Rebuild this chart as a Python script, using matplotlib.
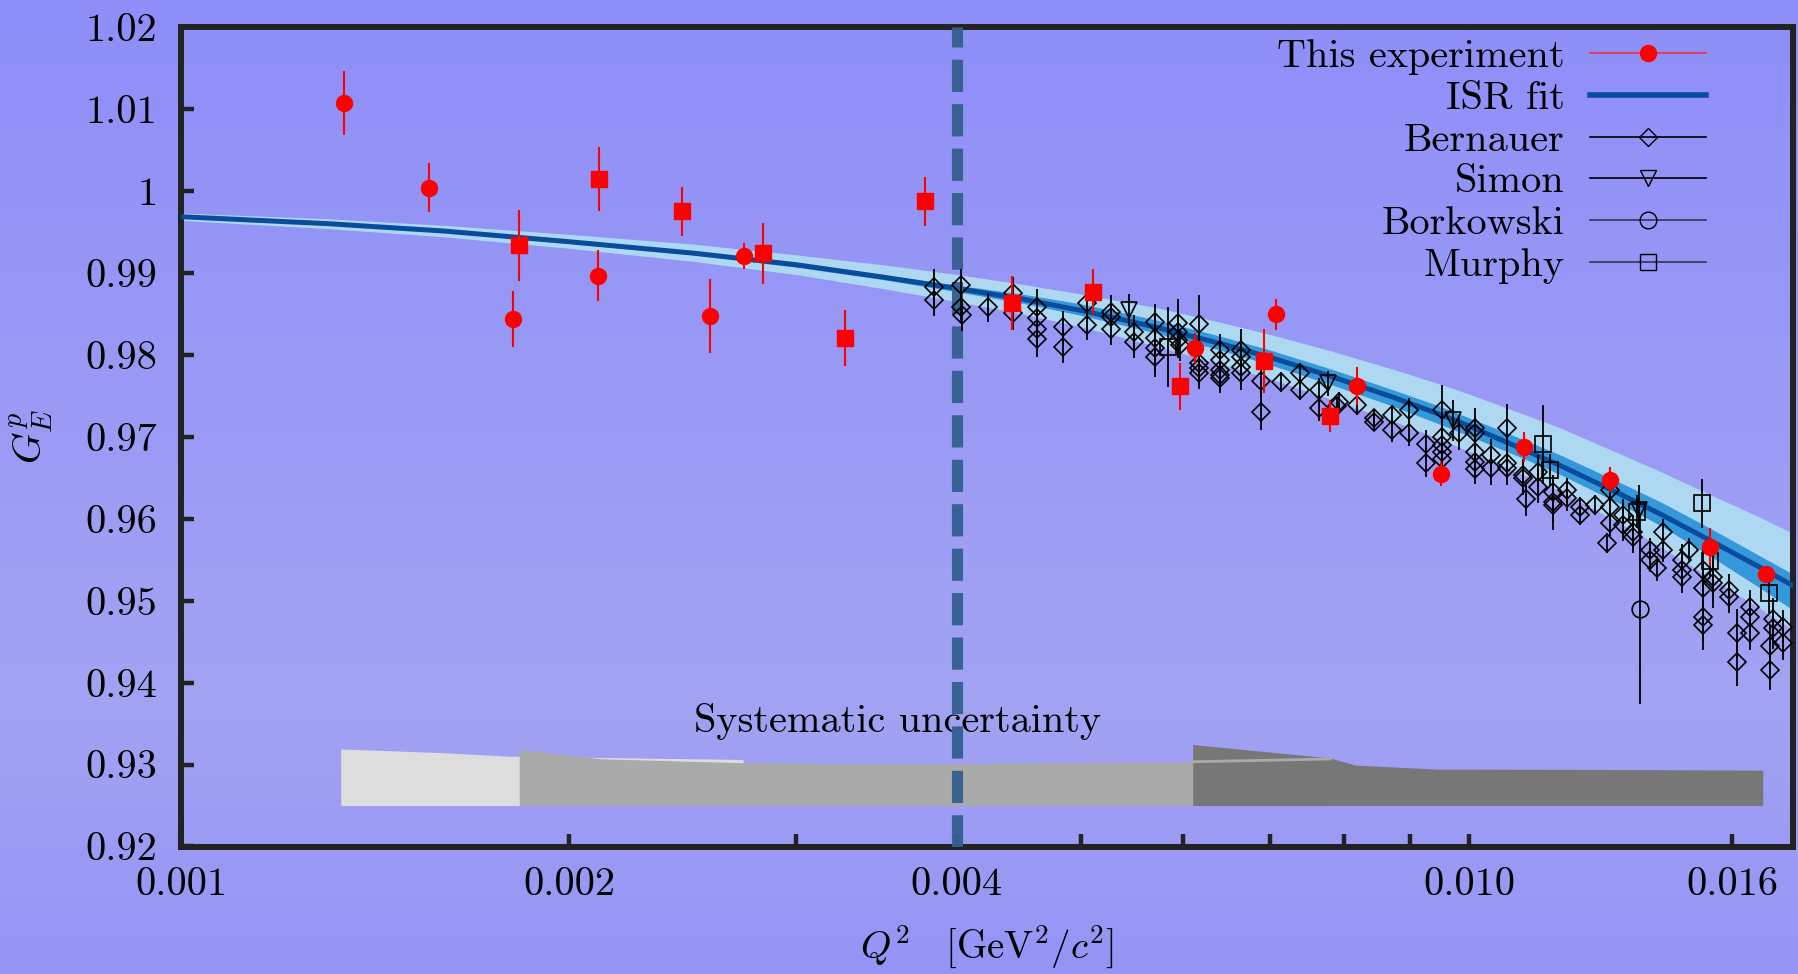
import numpy as np
import matplotlib
matplotlib.use("Agg")
import matplotlib.pyplot as plt
from matplotlib.lines import Line2D
from matplotlib.colors import LinearSegmentedColormap

plt.rcParams['font.family'] = ['cmr10', 'DejaVu Serif']
plt.rcParams['mathtext.fontset'] = 'cm'
plt.rcParams['axes.unicode_minus'] = False
plt.rcParams['axes.formatter.use_mathtext'] = True

# ---------------- data ----------------
# This experiment (circles)
exp_c_q2 = [0.001338, 0.001558, 0.001810, 0.002107, 0.002575, 0.002735, 0.006130,
            0.007085, 0.008188, 0.009513, 0.011030, 0.012860, 0.015370, 0.017010]
exp_c_g = [1.01069, 1.00039, 0.98437, 0.98965, 0.98477, 0.99206, 0.98083,
           0.98494, 0.97616, 0.96545, 0.96875, 0.96476, 0.95655, 0.95321]
exp_c_err = [0.0039, 0.0030, 0.0034, 0.0031, 0.0045, 0.0016, 0.0018,
             0.0019, 0.0023, 0.0015, 0.0018, 0.0015, 0.0023, 0.0010]
# This experiment (squares)
exp_s_q2 = [0.001830, 0.002112, 0.002449, 0.002831, 0.003279, 0.003783, 0.004414,
            0.005107, 0.005967, 0.006934, 0.007800]
exp_s_g = [0.99336, 1.00141, 0.99751, 0.99239, 0.98201, 0.99873, 0.98628,
           0.98763, 0.97616, 0.97921, 0.97253]
exp_s_err = [0.0043, 0.0039, 0.0030, 0.0037, 0.0034, 0.0030, 0.0033,
             0.0028, 0.0029, 0.0039, 0.0020]

# ISR fit: central curve, outer (light) and inner (dark) band offsets
fit_q2 = [0.0010, 0.0013, 0.0016, 0.0020, 0.0025, 0.0030, 0.0035, 0.0040, 0.0045,
          0.0050, 0.0057, 0.0064, 0.0070, 0.0078, 0.0087, 0.0095, 0.0100, 0.0110,
          0.0118, 0.0131, 0.0141, 0.0154, 0.0168, 0.0179]
fit_g = [0.99685, 0.9960, 0.9951, 0.9938, 0.9924, 0.9910, 0.9895, 0.9881, 0.9868,
         0.9854, 0.9834, 0.9814, 0.9797, 0.9774, 0.9749, 0.9727, 0.9713, 0.9685,
         0.9664, 0.9630, 0.9605, 0.9573, 0.9541, 0.9517]
fit_outer_up = [0.00045, 0.0006, 0.0007, 0.0009, 0.0011, 0.0012, 0.0015, 0.0017,
                0.0018, 0.0020, 0.0024, 0.0026, 0.0028, 0.0031, 0.0034, 0.0037,
                0.0039, 0.0043, 0.0046, 0.0049, 0.0052, 0.0056, 0.0061, 0.0064]
fit_outer_dn = [0.00045, 0.0006, 0.0007, 0.0008, 0.0010, 0.0012, 0.0014, 0.0016,
                0.0018, 0.0020, 0.0023, 0.0025, 0.0026, 0.0028, 0.0029, 0.0030,
                0.0031, 0.0031, 0.0031, 0.0036, 0.0040, 0.0045, 0.0050, 0.0054]
fit_inner_up = [0.0001, 0.0001, 0.0001, 0.0002, 0.0002, 0.0003, 0.0003, 0.0004,
                0.0006, 0.0008, 0.0009, 0.0009, 0.0009, 0.0009, 0.0009, 0.0010,
                0.0010, 0.0012, 0.0013, 0.0014, 0.0015, 0.0015, 0.0014, 0.0014]
fit_inner_dn = [0.0001, 0.0001, 0.0001, 0.0002, 0.0002, 0.0003, 0.0003, 0.0004,
                0.0005, 0.0006, 0.0007, 0.0008, 0.0009, 0.0010, 0.0011, 0.0012,
                0.0012, 0.0011, 0.0011, 0.0012, 0.0014, 0.0019, 0.0025, 0.0030]

# Bernauer
ber_q2 = [3.84, 3.84, 4.03, 4.03, 4.04, 4.23, 4.42, 4.42, 4.62, 4.62, 4.62, 4.62,
          4.84, 4.84, 5.05, 5.05, 5.27, 5.27, 5.27, 5.49, 5.49, 5.70, 5.70, 5.70, 5.70,
          5.94, 5.94, 5.94, 5.96, 6.17, 6.17, 6.17, 6.17, 6.41, 6.41, 6.41, 6.41, 6.41,
          6.65, 6.65, 6.65, 6.65, 6.89, 6.89, 7.14, 7.39, 7.39, 7.65, 7.65, 7.92, 7.90,
          8.18, 8.43, 8.43, 8.71, 8.71, 8.98, 8.98, 9.26, 9.26, 9.53, 9.53, 9.53, 9.53,
          9.53, 9.82, 10.1, 10.1, 10.1, 10.1, 10.1, 10.39, 10.39, 10.69, 10.69, 10.69,
          11.0, 11.0, 11.07, 11.3, 11.3, 11.61, 11.61, 11.61, 11.9, 11.9, 12.19, 12.19,
          12.52, 12.86, 12.86, 12.86, 12.79, 13.17, 13.17, 13.41, 13.41, 13.82, 13.82,
          13.98, 14.13, 14.13, 14.62, 14.62, 14.62, 14.8, 15.18, 15.18, 15.18, 15.18,
          15.47, 15.47, 15.92, 15.92, 16.13, 16.13, 16.52, 16.52, 16.52, 17.12, 17.12,
          17.2, 17.2, 17.53, 17.53]
ber_g = [0.98831, 0.98669, 0.98851, 0.98587, 0.98486, 0.98580, 0.98750, 0.98506,
         0.98587, 0.98445, 0.98315, 0.98189, 0.98336, 0.98099, 0.98628, 0.98364,
         0.98526, 0.98465, 0.98315, 0.98282, 0.98160, 0.98404, 0.98201, 0.98079,
         0.97977, 0.98384, 0.98282, 0.98180, 0.98119, 0.98374, 0.97896, 0.97835,
         0.97782, 0.98059, 0.97936, 0.97814, 0.97753, 0.97713, 0.98059, 0.97977,
         0.97855, 0.97774, 0.97686, 0.97300, 0.97667, 0.97774, 0.97570, 0.97570,
         0.97347, 0.97428, 0.97370, 0.97388, 0.97225, 0.97184, 0.97265, 0.97082,
         0.97326, 0.97042, 0.96906, 0.96683, 0.97326, 0.97001, 0.96899, 0.96818,
         0.96725, 0.97042, 0.97103, 0.97042, 0.96818, 0.96695, 0.96603, 0.96777,
         0.96615, 0.97103, 0.96676, 0.96615, 0.96533, 0.96493, 0.96237, 0.96574,
         0.96390, 0.96329, 0.96207, 0.96167, 0.96350, 0.96249, 0.96146, 0.96045,
         0.96167, 0.96350, 0.96146, 0.95944, 0.95700, 0.96045, 0.95923, 0.95841,
         0.95780, 0.95618, 0.95496, 0.95395, 0.95841, 0.95618, 0.95496, 0.95374,
         0.95292, 0.95618, 0.95374, 0.95151, 0.94804, 0.94703, 0.95292, 0.95212,
         0.95130, 0.95049, 0.94602, 0.94255, 0.94926, 0.94804, 0.94602, 0.94452,
         0.94154, 0.94782, 0.94662, 0.94682, 0.94480]
ber_err = [0.0022, 0.0020, 0.0020, 0.0020, 0.0020, 0.0018, 0.0020, 0.0020, 0.0022,
           0.0020, 0.0022, 0.0022, 0.0020, 0.0020, 0.0020, 0.0018, 0.0020, 0.0018,
           0.0020, 0.0020, 0.0020, 0.0022, 0.0030, 0.0030, 0.0025, 0.0030, 0.0025,
           0.0022, 0.0020, 0.0035, 0.0020, 0.0020, 0.0020, 0.0020, 0.0020, 0.0020,
           0.0018, 0.0018, 0.0025, 0.0022, 0.0020, 0.0020, 0.0020, 0.0022, 0.0012,
           0.0012, 0.0012, 0.0015, 0.0015, 0.0012, 0.0012, 0.0012, 0.0010, 0.0010,
           0.0012, 0.0015, 0.0015, 0.0015, 0.0018, 0.0018, 0.0030, 0.0020, 0.0020,
           0.0020, 0.0020, 0.0020, 0.0025, 0.0020, 0.0020, 0.0020, 0.0018, 0.0020,
           0.0020, 0.0030, 0.0020, 0.0020, 0.0020, 0.0020, 0.0020, 0.0020, 0.0020,
           0.0020, 0.0025, 0.0030, 0.0015, 0.0015, 0.0012, 0.0012, 0.0012, 0.0015,
           0.0015, 0.0015, 0.0012, 0.0020, 0.0020, 0.0020, 0.0020, 0.0015, 0.0015,
           0.0015, 0.0015, 0.0015, 0.0020, 0.0020, 0.0020, 0.0015, 0.0030, 0.0030,
           0.0030, 0.0030, 0.0030, 0.0030, 0.0020, 0.0020, 0.0030, 0.0030, 0.0020,
           0.0020, 0.0020, 0.0025, 0.0025, 0.0025, 0.0025, 0.0020, 0.0020]
ber_q2 = [v * 1e-3 for v in ber_q2]

# Simon
sim_q2 = [0.005446, 0.007775, 0.009720, 0.013550]
sim_g = [0.98546, 0.97652, 0.97204, 0.96106]
sim_err = [0.0020, 0.0015, 0.0025, 0.0030]
# Borkowski
bor_q2 = [0.013570]
bor_g = [0.94894]
bor_err = [0.0115]
# Murphy
mur_q2 = [0.005840, 0.011420, 0.011550, 0.013490, 0.015150, 0.015380, 0.017100]
mur_g = [0.98099, 0.96906, 0.96594, 0.96085, 0.96188, 0.95487, 0.95097]
mur_err = [0.0049, 0.0048, 0.0020, 0.0020, 0.0030, 0.0020, 0.0025]

# Systematic uncertainty bands (top edge; bottom at sys_bottom)
sys_bottom = 0.925
sys1_q2 = [0.00133, 0.00158, 0.00180, 0.00212, 0.00273]
sys1_top = [0.93190, 0.93148, 0.93102, 0.93086, 0.93062]
sys2_q2 = [0.00183, 0.00212, 0.00274, 0.00362, 0.00610, 0.00780]
sys2_top = [0.93184, 0.93070, 0.93022, 0.93007, 0.93034, 0.93068]
sys3_q2 = [0.00610, 0.00780, 0.00816, 0.00946, 0.01280, 0.01690]
sys3_top = [0.93245, 0.93080, 0.92993, 0.92944, 0.92940, 0.92932]

legend_labels = ["This experiment", "ISR fit", "Bernauer", "Simon", "Borkowski", "Murphy"]
xtick_major = [0.001, 0.002, 0.004, 0.010, 0.016]
xtick_labels = ["0.001", "0.002", "0.004", "0.010", "0.016"]
xtick_minor = [0.003, 0.005, 0.006, 0.007, 0.008, 0.009]
ytick_vals = [0.92, 0.93, 0.94, 0.95, 0.96, 0.97, 0.98, 0.99, 1.00, 1.01, 1.02]
ytick_labels = ["0.92", "0.93", "0.94", "0.95", "0.96", "0.97", "0.98", "0.99", "1", "1.01", "1.02"]

# ---------------- figure ----------------
W, H = 1798, 974
fig = plt.figure(figsize=(W / 100, H / 100), dpi=100)

bg = fig.add_axes([0, 0, 1, 1], zorder=-10)
cmap = LinearSegmentedColormap.from_list(
    'bg', [(0.0, '#8e8ef9'), (0.72, '#a3a3f3'), (1.0, '#9494f6')])
bg.imshow(np.linspace(0, 1, 256).reshape(-1, 1), aspect='auto', cmap=cmap,
          extent=[0, 1, 0, 1])
bg.axis('off')

x0, x1, ytop, ybot = 181.2, 1793.0, 27.0, 846.5
ax = fig.add_axes([x0 / W, (H - ybot) / H, (x1 - x0) / W, (ybot - ytop) / H])
ax.set_facecolor('none')
ax.set_xscale('log')
ax.set_xlim(0.001, 0.01784)
ax.set_ylim(0.92, 1.02)

fq = np.array(fit_q2)
fg = np.array(fit_g)
ax.fill_between(fq, fg - np.array(fit_outer_dn), fg + np.array(fit_outer_up),
                color='#aed8f2', lw=0, zorder=1)
ax.fill_between(fq, fg - np.array(fit_inner_dn), fg + np.array(fit_inner_up),
                color='#3498db', lw=0, zorder=2)
ax.plot(fq, fg, color='#0a4c9c', lw=3.6, zorder=3, solid_capstyle='butt',
        solid_joinstyle='round')

# systematic bands
ax.fill_between(sys1_q2, sys_bottom, sys1_top, color='#dddddd', lw=0, zorder=1)
ax.fill_between(sys2_q2, sys_bottom, sys2_top, color='#aaaaaa', lw=0, zorder=1.1)
ax.fill_between(sys3_q2, sys_bottom, sys3_top, color='#777777', lw=0, zorder=1.2)
ax.plot(sys2_q2[-2:], sys2_top[-2:], color='#aaaaaa', lw=2, zorder=1.3)
ax.text(0.00360, 0.9352, "Systematic uncertainty", ha='center', va='center',
        fontsize=29, zorder=2.5)

# dashed line at 0.004
ax.axvline(0.004, color='#355e8e', lw=8, dashes=(2.9, 1.1), zorder=4, alpha=0.95)

# other experiments
ax.errorbar(ber_q2, ber_g, yerr=ber_err, fmt='D', ms=8.8, mfc='none', mec='black',
            mew=1.2, ecolor='black', elinewidth=1.3, capsize=0, zorder=6)
ax.errorbar(sim_q2, sim_g, yerr=sim_err, fmt='v', ms=11, mfc='none', mec='black',
            mew=1.2, ecolor='black', elinewidth=1.3, capsize=0, zorder=6)
ax.errorbar(bor_q2, bor_g, yerr=bor_err, fmt='o', ms=12, mfc='none', mec='black',
            mew=1.2, ecolor='black', elinewidth=1.3, capsize=0, zorder=6)
ax.errorbar(mur_q2, mur_g, yerr=mur_err, fmt='s', ms=11.5, mfc='none', mec='black',
            mew=1.2, ecolor='black', elinewidth=1.3, capsize=0, zorder=6)

# this experiment
ax.errorbar(exp_c_q2, exp_c_g, yerr=exp_c_err, fmt='o', ms=11.5, color='red',
            ecolor='red', elinewidth=1.5, capsize=0, zorder=8)
ax.errorbar(exp_s_q2, exp_s_g, yerr=exp_s_err, fmt='s', ms=12, color='red',
            ecolor='red', elinewidth=1.5, capsize=0, zorder=8)

# axes styling
for s in ax.spines.values():
    s.set_linewidth(4.3)
    s.set_color('#222222')
ax.set_xticks(xtick_major)
ax.set_xticklabels(xtick_labels)
ax.set_xticks(xtick_minor, minor=True)
ax.xaxis.set_minor_formatter(matplotlib.ticker.NullFormatter())
ax.set_yticks(ytick_vals)
ax.set_yticklabels(ytick_labels)
ax.tick_params(axis='both', which='both', direction='in', length=9.5, width=3.2,
               color='#222222', labelsize=29, top=False, right=False)
ax.tick_params(axis='x', which='both', pad=15)
ax.tick_params(axis='y', which='both', pad=17)

ax.set_xlabel(r"$Q^2\quad[\mathrm{GeV}^2/c^2]$", fontsize=28)
ax.xaxis.set_label_coords(0.5, -0.095)
ax.set_ylabel(r"$G_E^p$", fontsize=29)
ax.yaxis.set_label_coords(-0.078, 0.5)

handles = [
    Line2D([], [], color='#e0406c', lw=1.5, marker='o', ms=11.5, mfc='red', mec='red'),
    Line2D([], [], color='#0a4c9c', lw=4),
    Line2D([], [], color='black', lw=1.2, marker='D', ms=8.8, mfc='none', mec='black'),
    Line2D([], [], color='black', lw=1.2, marker='v', ms=11, mfc='none', mec='black'),
    Line2D([], [], color='#333355', lw=1.2, marker='o', ms=12, mfc='none', mec='black'),
    Line2D([], [], color='#333355', lw=1.2, marker='s', ms=11.5, mfc='none', mec='black'),
]
ax.legend(handles, legend_labels, loc='upper right', bbox_to_anchor=(0.946, 0.985),
          frameon=False, markerfirst=False, fontsize=29, handlelength=2.87,
          handletextpad=0.64, labelspacing=0.135, borderpad=0, borderaxespad=0)

fig.savefig('out.png', dpi=100)
